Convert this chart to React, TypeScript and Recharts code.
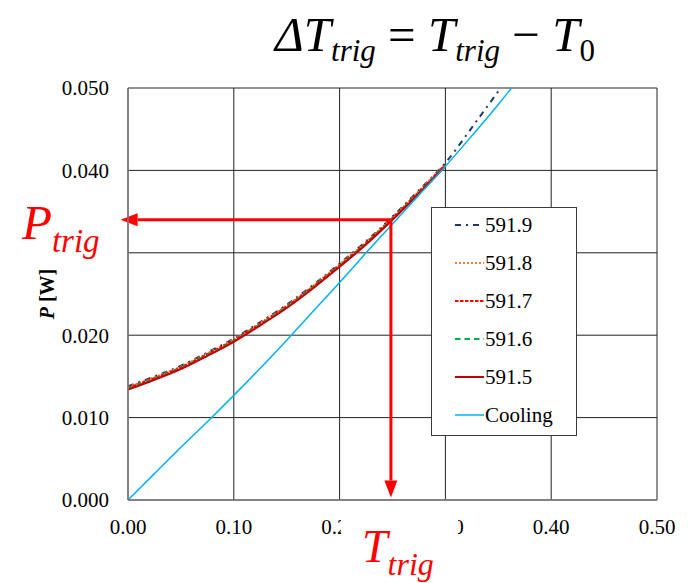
import React from 'react'
import {
  LineChart,
  Line,
  XAxis,
  YAxis,
  CartesianGrid,
  Legend,
  ReferenceLine,
} from 'recharts'

// x positions (delta T); last one only used by the cooling curve
const xValues = [
  0, 0.025, 0.05, 0.075, 0.1, 0.125, 0.15, 0.175, 0.2, 0.225, 0.25, 0.275, 0.3,
  0.325, 0.35, 0.3625,
]

const cooling = [
  0, 0.0032, 0.0064, 0.0095, 0.0127, 0.016, 0.0194, 0.0229, 0.0264, 0.03,
  0.0335, 0.037, 0.0405, 0.0442, 0.048, 0.05,
]
const p5919 = [
  0.0138, 0.015, 0.0163, 0.0179, 0.0196, 0.0216, 0.0237, 0.0261, 0.0287, 0.0314,
  0.0344, 0.0376, 0.0409, 0.0452, 0.0496,
]
const p5918 = [
  0.0137, 0.0149, 0.0162, 0.0178, 0.0195, 0.0215, 0.0236, 0.026, 0.0286, 0.0313,
  0.0343, 0.0375, 0.0408,
]
const p5917 = [
  0.0136, 0.0148, 0.0161, 0.0177, 0.0194, 0.0214, 0.0235, 0.0259, 0.0285,
  0.0312, 0.0342, 0.0374, 0.0407,
]
const p5916 = [
  0.0135, 0.0147, 0.016, 0.0176, 0.0193, 0.0213, 0.0234, 0.0258, 0.0284, 0.0311,
  0.0341, 0.0373, 0.0406,
]
const p5915 = [
  0.0134, 0.0146, 0.0159, 0.0175, 0.0192, 0.0212, 0.0233, 0.0257, 0.0283, 0.031,
  0.034, 0.0372, 0.0405,
]

const xTicks = [0, 0.1, 0.2, 0.3, 0.4, 0.5]
const yTicks = [0, 0.01, 0.02, 0.03, 0.04, 0.05]

// trigger point
const trigX = 0.2485
const trigP = 0.034

const series = [
  { key: 'p5919', name: '591.9', color: '#1f3864', dash: '6 5 2 5', width: 2 },
  { key: 'p5918', name: '591.8', color: '#ed7d31', dash: '2 2', width: 2 },
  { key: 'p5917', name: '591.7', color: '#ff0000', dash: '3.5 1.5', width: 2 },
  { key: 'p5916', name: '591.6', color: '#00b050', dash: '5.5 4', width: 2 },
  { key: 'p5915', name: '591.5', color: '#c00000', dash: undefined, width: 2 },
  { key: 'cooling', name: 'Cooling', color: '#00b0f0', dash: undefined, width: 1.5 },
]

const data = xValues.map((x, i) => ({
  x,
  cooling: cooling[i],
  p5919: p5919[i],
  p5918: p5918[i],
  p5917: p5917[i],
  p5916: p5916[i],
  p5915: p5915[i],
}))

const serif = '"Liberation Serif", "Times New Roman", serif'

function Arrow(props: any) {
  const { x1, y1, x2, y2 } = props
  const dx = x2 - x1
  const dy = y2 - y1
  const len = Math.hypot(dx, dy) || 1
  const ux = dx / len
  const uy = dy / len
  const head = 17
  const half = 6.5
  const bx = x2 - ux * head
  const by = y2 - uy * head
  return (
    <g>
      <line x1={x1} y1={y1} x2={bx} y2={by} stroke="#ff0000" strokeWidth={3} />
      <polygon
        points={`${x2},${y2} ${bx - uy * half},${by + ux * half} ${bx + uy * half},${by - ux * half}`}
        fill="#ff0000"
      />
    </g>
  )
}

function LegendBox() {
  return (
    <div
      style={{
        position: 'relative',
        width: 146,
        height: 229,
        boxSizing: 'border-box',
        border: '1px solid #3a3a3a',
        background: '#fff',
        fontFamily: serif,
        fontSize: 21,
        color: '#000',
      }}
    >
      {series.map((s, i) => (
        <div
          key={s.key}
          style={{
            position: 'absolute',
            left: 23,
            top: -2 + 38 * i,
            height: 38,
            display: 'flex',
            alignItems: 'center',
          }}
        >
          <svg width={30} height={10} style={{ display: 'block' }}>
            <line
              x1={0}
              y1={5}
              x2={29}
              y2={5}
              stroke={s.color}
              strokeWidth={s.width}
              strokeDasharray={s.dash}
            />
          </svg>
          <span style={{ marginLeft: 0, lineHeight: '38px' }}>{s.name}</span>
        </div>
      ))}
    </div>
  )
}

// 0.030 is hidden behind the P_trig label in the original
const yTickText = (v: number) => (Math.abs(v - 0.03) < 1e-9 ? '' : v.toFixed(3))

export default function App() {
  return (
    <div
      style={{
        position: 'absolute',
        left: 0,
        top: 0,
        width: 697,
        height: 583,
        background: '#fff',
        overflow: 'hidden',
        fontFamily: serif,
      }}
    >
      <LineChart
        width={697}
        height={583}
        data={data}
        margin={{ top: 88, right: 40, bottom: 53, left: 68 }}
        style={{ fontFamily: serif }}
      >
        <CartesianGrid stroke="#222" strokeWidth={1} />
        <XAxis
          dataKey="x"
          type="number"
          domain={[0, 0.5]}
          ticks={xTicks}
          tickFormatter={(v: number) => v.toFixed(2)}
          stroke="#7f7f7f"
          strokeWidth={1.5}
          tickLine={false}
          tickSize={0}
          tickMargin={19}
          height={30}
          tick={{ fill: '#000', fontSize: 21, fontFamily: serif, style: { fontFamily: serif } }}
        />
        <YAxis
          type="number"
          domain={[0, 0.05]}
          ticks={yTicks}
          tickFormatter={yTickText}
          stroke="#7f7f7f"
          strokeWidth={1.5}
          tickLine={false}
          tickSize={0}
          tickMargin={19}
          width={60}
          tick={{ fill: '#000', fontSize: 21, fontFamily: serif, style: { fontFamily: serif } }}
        />
        {series.map((s) => (
          <Line
            key={s.key}
            dataKey={s.key}
            name={s.name}
            type="monotone"
            stroke={s.color}
            strokeWidth={s.width}
            strokeDasharray={s.dash}
            dot={false}
            activeDot={false}
            isAnimationActive={false}
          />
        ))}
        <ReferenceLine
          segment={[
            { x: trigX, y: trigP },
            { x: -0.007, y: trigP },
          ]}
          ifOverflow="visible"
          shape={Arrow}
        />
        <ReferenceLine
          segment={[
            { x: trigX, y: trigP },
            { x: trigX, y: 0.0003 },
          ]}
          ifOverflow="visible"
          shape={Arrow}
        />
        <Legend
          layout="horizontal"
          verticalAlign="middle"
          align="center"
          wrapperStyle={{ left: 431, top: 207, width: 146, height: 229 }}
          content={() => <LegendBox />}
        />
      </LineChart>

      <svg
        width={697}
        height={583}
        style={{ position: 'absolute', left: 0, top: 0, pointerEvents: 'none' }}
      >
        {/* white text box of the T_trig label, hiding parts of 0.20 / 0.30 */}
        <rect x={341} y={506} width={117} height={77} fill="#fff" />

        <text x={275} y={51} fontFamily={serif} fontSize={49} fill="#000">
          <tspan fontStyle="italic">ΔT</tspan>
          <tspan fontStyle="italic" fontSize={31} dy={10}>trig</tspan>
          <tspan dy={-10}> = </tspan>
          <tspan fontStyle="italic">T</tspan>
          <tspan fontStyle="italic" fontSize={31} dy={10}>trig</tspan>
          <tspan dy={-10}> − </tspan>
          <tspan fontStyle="italic">T</tspan>
          <tspan fontSize={31} dy={10}>0</tspan>
        </text>

        <text x={22} y={239} fontFamily={serif} fontSize={49} fill="#ff0000" fontStyle="italic">
          P<tspan fontSize={33} dy={13}>trig</tspan>
        </text>

        <text x={362} y={562} fontFamily={serif} fontSize={46} fill="#ff0000" fontStyle="italic">
          T<tspan fontSize={32} dy={13}>trig</tspan>
        </text>

        <text
          transform="translate(54 294) rotate(-90)"
          textAnchor="middle"
          fontFamily={serif}
          fontSize={20}
          fontWeight="bold"
          fill="#000"
        >
          <tspan fontStyle="italic">P</tspan> [W]
        </text>
      </svg>
    </div>
  )
}
